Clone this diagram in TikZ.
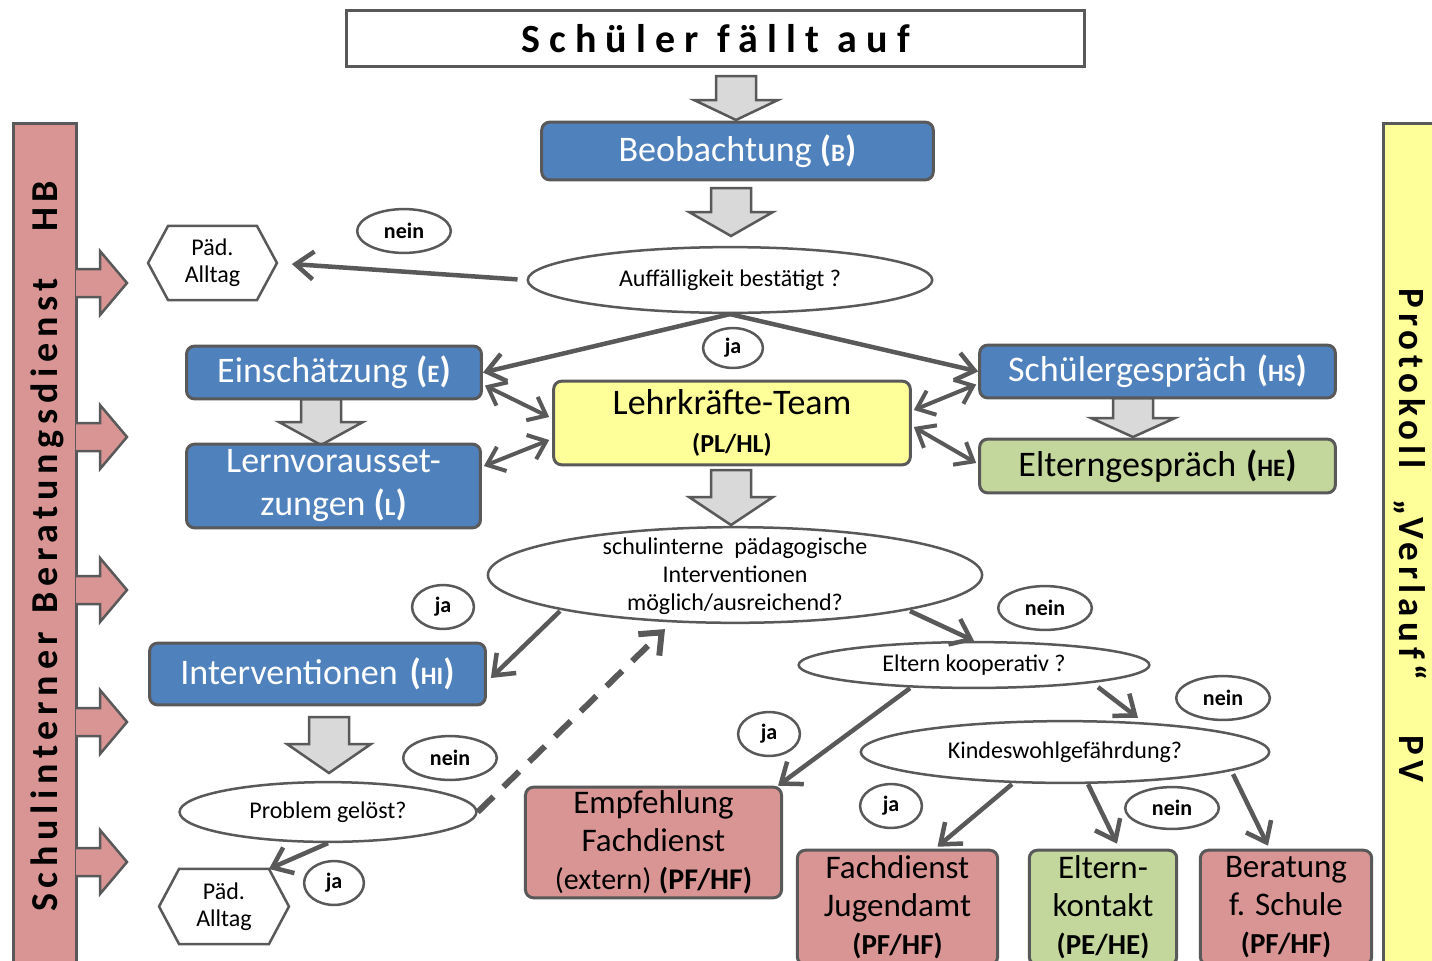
\documentclass[tikz,border=0pt]{standalone}
\usepackage{fontspec}
\setmainfont{Carlito}
\usetikzlibrary{arrows.meta,calc,shapes.geometric}
\definecolor{bord}{HTML}{595959}
\definecolor{blu}{HTML}{4F81BD}
\definecolor{pnk}{HTML}{D99594}
\definecolor{grn}{HTML}{C3D69B}
\definecolor{yel}{HTML}{FFFF99}
\definecolor{lgr}{HTML}{D9D9D9}
\newcommand\fsz[2]{\fontsize{#1bp}{#2bp}\selectfont}
\newcommand\tg[1]{\textbf{(}{\bfseries\fsz{25}{25}#1}\textbf{)}}
\newcommand\garrow[4]{\draw[bord, line width=2.5bp, fill=lgr, line join=miter] (#1-20,#2) -- (#1+20,#2) -- (#1+20,#3) -- (#1+42,#3) -- (#1,#4) -- (#1-42,#3) -- (#1-20,#3) -- cycle;}
\newcommand\parrow[1]{\draw[bord, line width=2.5bp, fill=pnk, line join=miter] (76,#1-14) -- (100,#1-14) -- (100,#1-32) -- (127,#1) -- (100,#1+32) -- (100,#1+14) -- (76,#1+14);}
\begin{document}
\begin{tikzpicture}[x=1bp,y=-1bp,
  box/.style={draw=bord, line width=3bp, rounded corners=8bp, align=center, inner sep=0pt},
  bluebox/.style={box, fill=blu, text=white, font=\fsz{36}{43}},
  pinkbox/.style={box, fill=pnk, text=black, font=\fsz{33}{38}},
  greenbox/.style={box, fill=grn, text=black, font=\fsz{33}{38}},
  ell/.style={ellipse, draw=bord, line width=2.5bp, fill=white, inner sep=0pt, align=center, font=\fsz{24}{28}},
  lab/.style={ellipse, draw=bord, line width=2.5bp, fill=white, inner sep=0pt, font=\bfseries\fsz{22}{22}},
  hexbox/.style={inner sep=0pt, align=center, font=\fsz{24}{27}},
  hexline/.style={draw=bord, line width=2.5bp, line join=miter},
  con/.style={draw=bord, line width=4.5bp, -{Straight Barb[length=18bp,width=28bp]}},
  dcon/.style={draw=bord, line width=4bp, {Straight Barb[length=16bp,width=26bp]}-{Straight Barb[length=16bp,width=26bp]}},
  dashcon/.style={draw=bord, line width=6bp, dash pattern=on 22bp off 14bp, -{Straight Barb[length=18bp,width=30bp]}}
]
\useasboundingbox (0,0) rectangle (1432,960);
\clip (0,0) rectangle (1432,960);
\fill[white] (0,0) rectangle (1432,960);

% side bars
\node[draw=bord, line width=3bp, fill=pnk, minimum width=64, minimum height=850, inner sep=0pt] (lbar) at (45,547) {};
\node[draw=bord, line width=3bp, fill=yel, minimum width=64, minimum height=850, inner sep=0pt] (rbar) at (1415,547) {};
\node[rotate=90, anchor=west, inner sep=0pt, font={\bfseries\fsz{38}{38}\addfontfeature{LetterSpace=15}}] (lbartxt) at (47,912) {Schulinterner\hspace{18bp}Beratungsdienst\hspace{46bp}HB};
\node[rotate=-90, anchor=west, inner sep=0pt, font={\bfseries\fsz{37}{37}\addfontfeature{LetterSpace=14}}] (rbartxt) at (1410,288) {Protokoll\hspace{30bp}„Verlauf“\hspace{55bp}PV};
\parrow{283}
\parrow{437}
\parrow{590}
\parrow{722}
\parrow{862}

% title
\node[draw=bord, line width=3bp, fill=white, minimum width=741, minimum height=57, inner sep=0pt, font={\bfseries\fsz{40}{40}\addfontfeature{LetterSpace=23}}] (title) at (715.5,38.5) {Schüler fällt auf\hspace{8bp}};

% gray block arrows
\garrow{736}{76}{100}{120}
\garrow{731}{188}{212}{236}
\garrow{321}{399}{422}{445}
\garrow{1133}{398}{418}{437}
\garrow{731}{470}{497}{525}
\garrow{329}{717}{744}{773}

% boxes
\node[bluebox, minimum width=393, minimum height=58] (beob) at (737.5,151) {Beobachtung \tg{B}};
\node[bluebox, minimum width=296, minimum height=53] (einsch) at (334,372.5) {Einschätzung \tg{E}};
\node[bluebox, minimum width=295, minimum height=84] (lern) at (333.5,486) {Lernvorausset-\\zungen \tg{L}};
\node[box, fill=yel, minimum width=358, minimum height=84, font=\fsz{36}{38}] (team) at (732,423) {Lehrkräfte-Team\\{\bfseries\fsz{26}{26}(PL/HL)}};
\node[bluebox, minimum width=357, minimum height=53] (hs) at (1157.5,371.5) {Schülergespräch\hspace{10bp}\tg{HS}};
\node[greenbox, minimum width=357, minimum height=54, font=\fsz{36}{40}] (he) at (1157.5,466) {Elterngespräch\hspace{10bp}\tg{HE}};
\node[bluebox, minimum width=337, minimum height=62] (interv) at (317.5,674) {Interventionen\hspace{12bp}\tg{HI}};
\node[pinkbox, minimum width=257, minimum height=111] (empf) at (653.5,842.5) {Empfehlung\\Fachdienst\\{\fsz{30}{30}(extern)} {\bfseries\fsz{30}{30}(PF/HF)}};
\node[pinkbox, minimum width=201, minimum height=115] (fdj) at (897.5,907.5) {Fachdienst\\Jugendamt\\{\bfseries\fsz{29}{29}(PF/HF)}};
\node[greenbox, minimum width=148, minimum height=115] (ek) at (1103,907.5) {Eltern-\\kontakt\\{\bfseries\fsz{29}{29}(PE/HE)}};
\node[pinkbox, minimum width=172, minimum height=115] (ber) at (1286,907.5) {Beratung\\f. Schule\\{\bfseries\fsz{29}{29}(PF/HF)}};

% ellipses
\node[ell, minimum width=406, minimum height=66] (auff) at (730,280) {Auffälligkeit bestätigt ?};
\node[ell, minimum width=496, minimum height=96] (schul) at (735,575) {};
\node[align=center, inner sep=0pt, font=\fsz{24}{28}] (schultxt) at (735,576) {schulinterne\ \ pädagogische\\Interventionen\\möglich/ausreichend?};
\node[ell, minimum width=352, minimum height=46] (elt) at (974,665) {Eltern kooperativ ?};
\node[ell, minimum width=410, minimum height=62] (kind) at (1065,752) {Kindeswohlgefährdung?};
\node[ell, minimum width=298, minimum height=60] (prob) at (328,812) {Problem gelöst?};

% ja / nein labels
\node[lab, minimum width=94, minimum height=44] (nein1) at (404,231) {nein};
\node[lab, minimum width=60, minimum height=40] (ja1) at (733,348) {ja};
\node[lab, minimum width=62, minimum height=44] (ja2) at (443,607) {ja};
\node[lab, minimum width=94, minimum height=44] (nein2) at (1045,608) {nein};
\node[lab, minimum width=62, minimum height=44] (ja3) at (769,734) {ja};
\node[lab, minimum width=94, minimum height=44] (nein3) at (1223,698) {nein};
\node[lab, minimum width=62, minimum height=44] (ja4) at (891,806) {ja};
\node[lab, minimum width=94, minimum height=42] (nein4) at (1172,808) {nein};
\node[lab, minimum width=94, minimum height=44] (nein5) at (450,758) {nein};
\node[lab, minimum width=60, minimum height=44] (ja5) at (334,883) {ja};

% hexagons
\node[hexbox, minimum width=129, minimum height=74] (alltag1) at (212.5,263) {Päd.\\Alltag};
\draw[hexline] (alltag1.west) -- ($(alltag1.north west)+(20,0)$) -- ($(alltag1.north east)+(-20,0)$) -- (alltag1.east) -- ($(alltag1.south east)+(-20,0)$) -- ($(alltag1.south west)+(20,0)$) -- cycle;
\node[hexbox, minimum width=130, minimum height=75] (alltag2) at (224,906.5) {Päd.\\Alltag};
\draw[hexline] (alltag2.west) -- ($(alltag2.north west)+(20,0)$) -- ($(alltag2.north east)+(-20,0)$) -- (alltag2.east) -- ($(alltag2.south east)+(-20,0)$) -- ($(alltag2.south west)+(20,0)$) -- cycle;

% connectors
\draw[con, shorten <=9bp, shorten >=15bp] (auff.west) -- (alltag1.east);
\draw[con] (auff.south) -- (einsch.east);
\draw[con] (auff.south) -- (hs.west);
\draw[dcon] ($(einsch.east)+(2,13)$) -- ($(team.west)+(-3,-6)$);
\draw[dcon] ($(lern.east)+(2,-20)$) -- ($(team.west)+(-3,17)$);
\draw[dcon] ($(team.east)+(2,-13)$) -- ($(hs.west)+(-2,13)$);
\draw[dcon] ($(team.east)+(2,4)$) -- ($(he.west)+(-2,-3)$);
\draw[con] ($(schul.south)+(-175,-13)$) -- ($(interv.east)+(4,4)$);
\draw[con] ($(schul.south)+(175,-13)$) -- (elt.north);
\draw[con] ($(elt.south)+(-64,-1)$) -- ($(empf.north east)+(-5,0)$);
\draw[con] ($(elt.south)+(124,-2)$) -- ($(kind.north)+(73,-2)$);
\draw[con] ($(kind.south)+(-53,0)$) -- ($(fdj.north)+(40,-2)$);
\draw[con] ($(kind.south)+(23,0)$) -- ($(ek.north)+(14,-5)$);
\draw[con] ($(kind.south)+(168,-10)$) -- ($(ber.north)+(-18,-3)$);
\draw[con] (prob.south) -- ($(alltag2.north east)+(-20,0)$);
\draw[dashcon] (prob.east) -- ($(schul.south)+(-70,5)$);
\end{tikzpicture}
\end{document}
